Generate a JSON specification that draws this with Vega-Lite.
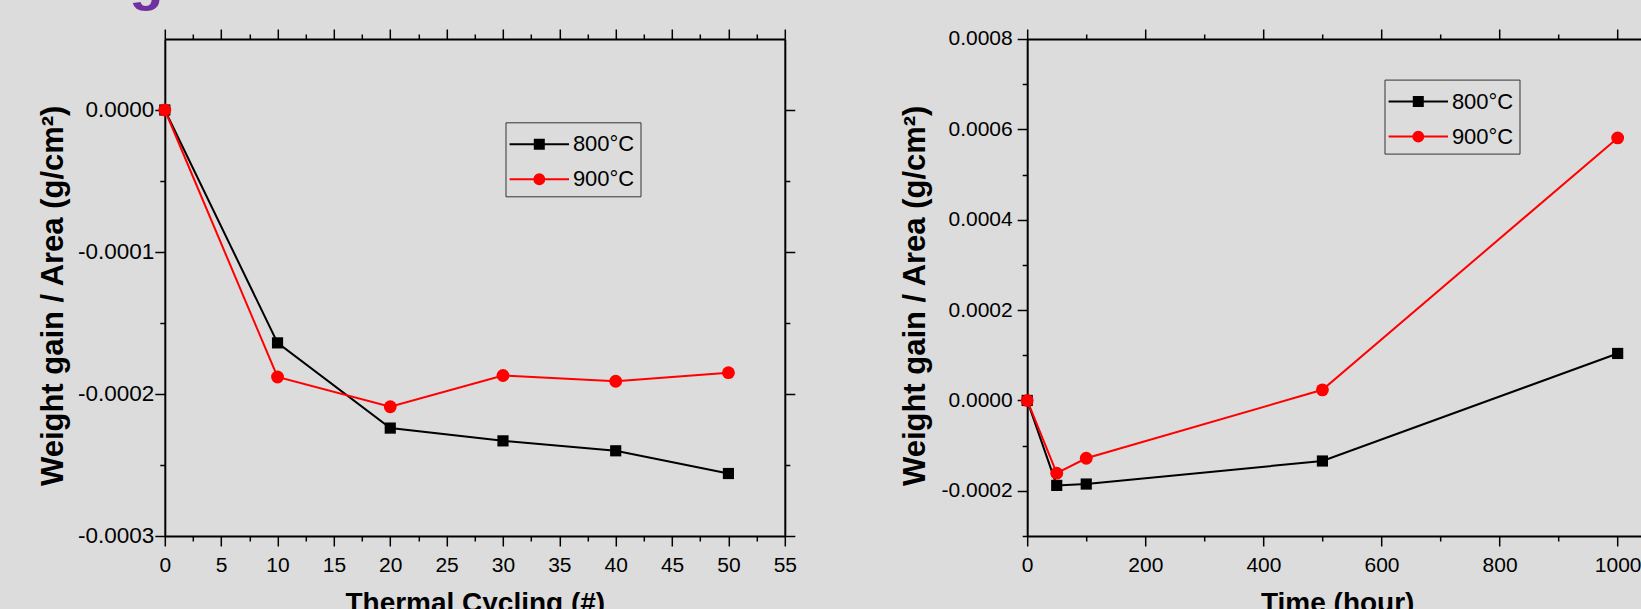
{
  "$schema": "https://vega.github.io/schema/vega-lite/v6.json",
  "background": "#DCDCDC",
  "autosize": {"type": "pad"},
  "padding": {"left": 36.8, "top": -47, "right": -15.7, "bottom": -8.7},
  "title": {"text": "g", "anchor": "start", "frame": "bounds", "offset": -26.9, "dx": 92, "fontSize": 56, "fontWeight": "bold", "font": "Liberation Sans", "color": "#7030A0", "baseline": "alphabetic"},
  "datasets": {
    "tc": [
      {"cycle": 0, "gain": 0, "series": "800°C"},
      {"cycle": 10, "gain": -0.000164, "series": "800°C"},
      {"cycle": 20, "gain": -0.000224, "series": "800°C"},
      {"cycle": 30, "gain": -0.000233, "series": "800°C"},
      {"cycle": 40, "gain": -0.00024, "series": "800°C"},
      {"cycle": 50, "gain": -0.000256, "series": "800°C"},
      {"cycle": 0, "gain": 0, "series": "900°C"},
      {"cycle": 10, "gain": -0.000188, "series": "900°C"},
      {"cycle": 20, "gain": -0.000209, "series": "900°C"},
      {"cycle": 30, "gain": -0.000187, "series": "900°C"},
      {"cycle": 40, "gain": -0.000191, "series": "900°C"},
      {"cycle": 50, "gain": -0.000185, "series": "900°C"}
    ],
    "time": [
      {"hour": 0, "gain": 0, "series": "800°C"},
      {"hour": 50, "gain": -0.000188, "series": "800°C"},
      {"hour": 100, "gain": -0.000185, "series": "800°C"},
      {"hour": 500, "gain": -0.000134, "series": "800°C"},
      {"hour": 1000, "gain": 0.000104, "series": "800°C"},
      {"hour": 0, "gain": 0, "series": "900°C"},
      {"hour": 50, "gain": -0.000161, "series": "900°C"},
      {"hour": 100, "gain": -0.000128, "series": "900°C"},
      {"hour": 500, "gain": 0.0000235, "series": "900°C"},
      {"hour": 1000, "gain": 0.000581, "series": "900°C"}
    ]
  },
  "hconcat": [
    {
      "width": 620,
      "height": 497,
      "data": {"name": "tc"},
      "layer": [
        {
          "transform": [{"filter": "datum.series === '800°C'"}],
          "mark": {"type": "line", "strokeWidth": 2, "color": "#000000"},
          "encoding": {
            "x": {"field": "cycle", "type": "quantitative", "scale": {"domain": [0, 55], "nice": false, "zero": false},
              "axis": {"orient": "bottom", "values": [0, 5, 10, 15, 20, 25, 30, 35, 40, 45, 50, 55], "format": "d", "labelPadding": 9, "title": "Thermal Cycling (#)", "titleFontSize": 28, "titleY": 53.7, "titleBaseline": "top"}},
            "y": {"field": "gain", "type": "quantitative", "scale": {"domain": [-0.0003, 0.00005], "nice": false, "zero": false},
              "axis": {"orient": "left", "values": [-0.0003, -0.0002, -0.0001, 0], "labelExpr": "(datum.value < 0 ? '-' : '') + format(abs(datum.value), '.4f')", "labelFontSize": 22.5, "labelPadding": 1, "title": "Weight gain / Area (g/cm²)", "titleFontSize": 31, "titleX": -111.5, "titleY": 256.3, "titleBaseline": "middle", "titleAngle": 270}}
          }
        },
        {
          "transform": [{"filter": "datum.series === '900°C'"}],
          "mark": {"type": "line", "strokeWidth": 2, "color": "#FF0000"},
          "encoding": {
            "x": {"field": "cycle", "type": "quantitative", "axis": null},
            "y": {"field": "gain", "type": "quantitative", "axis": null}
          }
        },
        {
          "transform": [{"filter": "datum.series === '800°C'"}],
          "mark": {"type": "point", "shape": "square", "filled": true, "size": 125, "color": "#000000", "opacity": 1},
          "encoding": {
            "x": {"field": "cycle", "type": "quantitative", "axis": {"orient": "top", "values": [0, 5, 10, 15, 20, 25, 30, 35, 40, 45, 50, 55], "labels": false, "title": null}},
            "y": {"field": "gain", "type": "quantitative", "axis": {"orient": "right", "values": [-0.0003, -0.0002, -0.0001, 0], "labels": false, "title": null}}
          }
        },
        {
          "transform": [{"filter": "datum.series === '900°C'"}],
          "mark": {"type": "point", "shape": "circle", "filled": true, "size": 165, "color": "#FF0000", "opacity": 1},
          "encoding": {
            "x": {"field": "cycle", "type": "quantitative", "axis": {"orient": "bottom", "values": [2.5, 7.5, 12.5, 17.5, 22.5, 27.5, 32.5, 37.5, 42.5, 47.5, 52.5], "labels": false, "domain": false, "tickSize": 5, "title": null}},
            "y": {"field": "gain", "type": "quantitative", "axis": {"orient": "left", "values": [-0.00025, -0.00015, -0.00005], "labels": false, "domain": false, "tickSize": 5, "title": null}}
          }
        },
        {
          "mark": {"type": "point", "filled": true, "opacity": 0.001},
          "encoding": {
            "x": {"field": "cycle", "type": "quantitative", "axis": {"orient": "top", "values": [2.5, 7.5, 12.5, 17.5, 22.5, 27.5, 32.5, 37.5, 42.5, 47.5, 52.5], "labels": false, "domain": false, "tickSize": 5, "title": null}},
            "y": {"field": "gain", "type": "quantitative", "axis": {"orient": "right", "values": [-0.00025, -0.00015, -0.00005], "labels": false, "domain": false, "tickSize": 5, "title": null}},
            "fill": {"field": "series", "type": "nominal", "scale": {"domain": ["800°C", "900°C"], "range": ["#000000", "#FF0000"]},
              "legend": {"orient": "none", "legendX": 340.7, "legendY": 83.3, "title": null, "symbolSize": 900, "symbolStrokeWidth": 2, "symbolOpacity": 1, "symbolOffset": 11.8, "labelOffset": 17.6, "labelFontSize": 22, "labelFont": "Liberation Sans", "labelColor": "#000000", "strokeColor": "#333333", "fillColor": "#DCDCDC", "padding": 6, "rowPadding": 8}},
            "stroke": {"field": "series", "type": "nominal", "scale": {"domain": ["800°C", "900°C"], "range": ["#000000", "#FF0000"]},
              "legend": {"orient": "none", "legendX": 340.7, "legendY": 83.3, "title": null, "symbolSize": 900, "symbolStrokeWidth": 2, "symbolOpacity": 1, "symbolOffset": 11.8, "labelOffset": 17.6, "labelFontSize": 22, "labelFont": "Liberation Sans", "labelColor": "#000000", "strokeColor": "#333333", "fillColor": "#DCDCDC", "padding": 6, "rowPadding": 8}},
            "shape": {"field": "series", "type": "nominal", "scale": {"domain": ["800°C", "900°C"], "range": ["M-1.98,0H1.98M-0.3,-0.3H0.3V0.3H-0.3Z", "M-1.98,0H1.98M0.33,0A0.33,0.33,0,1,1,-0.33,0A0.33,0.33,0,1,1,0.33,0Z"]},
              "legend": {"orient": "none", "legendX": 340.7, "legendY": 83.3, "title": null, "symbolSize": 900, "symbolStrokeWidth": 2, "symbolOpacity": 1, "symbolOffset": 11.8, "labelOffset": 17.6, "labelFontSize": 22, "labelFont": "Liberation Sans", "labelColor": "#000000", "strokeColor": "#333333", "fillColor": "#DCDCDC", "padding": 6, "rowPadding": 8}}
          }
        }
      ],
      "resolve": {"axis": {"x": "independent", "y": "independent"}}
    },
    {
      "width": 620,
      "height": 497,
      "data": {"name": "time"},
      "layer": [
        {
          "transform": [{"filter": "datum.series === '800°C'"}],
          "mark": {"type": "line", "strokeWidth": 2, "color": "#000000"},
          "encoding": {
            "x": {"field": "hour", "type": "quantitative", "scale": {"domain": [0, 1050], "nice": false, "zero": false},
              "axis": {"orient": "bottom", "values": [0, 200, 400, 600, 800, 1000], "format": "d", "labelPadding": 9, "title": "Time (hour)", "titleFontSize": 28, "titleY": 53.7, "titleBaseline": "top"}},
            "y": {"field": "gain", "type": "quantitative", "scale": {"domain": [-0.0003, 0.0008], "nice": false, "zero": false},
              "axis": {"orient": "left", "values": [-0.0002, 0, 0.0002, 0.0004, 0.0006, 0.0008], "labelExpr": "(datum.value < 0 ? '-' : '') + format(abs(datum.value), '.4f')", "labelPadding": 5, "title": "Weight gain / Area (g/cm²)", "titleFontSize": 31, "titleX": -111.5, "titleY": 256.3, "titleBaseline": "middle", "titleAngle": 270}}
          }
        },
        {
          "transform": [{"filter": "datum.series === '900°C'"}],
          "mark": {"type": "line", "strokeWidth": 2, "color": "#FF0000"},
          "encoding": {
            "x": {"field": "hour", "type": "quantitative", "axis": null},
            "y": {"field": "gain", "type": "quantitative", "axis": null}
          }
        },
        {
          "transform": [{"filter": "datum.series === '800°C'"}],
          "mark": {"type": "point", "shape": "square", "filled": true, "size": 125, "color": "#000000", "opacity": 1},
          "encoding": {
            "x": {"field": "hour", "type": "quantitative", "axis": {"orient": "top", "values": [0, 200, 400, 600, 800, 1000], "labels": false, "title": null}},
            "y": {"field": "gain", "type": "quantitative", "axis": {"orient": "right", "values": [-0.0002, 0, 0.0002, 0.0004, 0.0006, 0.0008], "labels": false, "title": null}}
          }
        },
        {
          "transform": [{"filter": "datum.series === '900°C'"}],
          "mark": {"type": "point", "shape": "circle", "filled": true, "size": 165, "color": "#FF0000", "opacity": 1},
          "encoding": {
            "x": {"field": "hour", "type": "quantitative", "axis": {"orient": "bottom", "values": [100, 300, 500, 700, 900], "labels": false, "domain": false, "tickSize": 5, "title": null}},
            "y": {"field": "gain", "type": "quantitative", "axis": {"orient": "left", "values": [-0.0003, -0.0001, 0.0001, 0.0003, 0.0005, 0.0007], "labels": false, "domain": false, "tickSize": 5, "title": null}}
          }
        },
        {
          "mark": {"type": "point", "filled": true, "opacity": 0.001},
          "encoding": {
            "x": {"field": "hour", "type": "quantitative", "axis": {"orient": "top", "values": [100, 300, 500, 700, 900], "labels": false, "domain": false, "tickSize": 5, "title": null}},
            "y": {"field": "gain", "type": "quantitative", "axis": {"orient": "right", "values": [-0.0003, -0.0001, 0.0001, 0.0003, 0.0005, 0.0007], "labels": false, "domain": false, "tickSize": 5, "title": null}},
            "fill": {"field": "series", "type": "nominal", "scale": {"domain": ["800°C", "900°C"], "range": ["#000000", "#FF0000"]},
              "legend": {"orient": "none", "legendX": 357.3, "legendY": 40.6, "title": null, "symbolSize": 900, "symbolStrokeWidth": 2, "symbolOpacity": 1, "symbolOffset": 11.8, "labelOffset": 17.6, "labelFontSize": 22, "labelFont": "Liberation Sans", "labelColor": "#000000", "strokeColor": "#333333", "fillColor": "#DCDCDC", "padding": 6, "rowPadding": 8}},
            "stroke": {"field": "series", "type": "nominal", "scale": {"domain": ["800°C", "900°C"], "range": ["#000000", "#FF0000"]},
              "legend": {"orient": "none", "legendX": 357.3, "legendY": 40.6, "title": null, "symbolSize": 900, "symbolStrokeWidth": 2, "symbolOpacity": 1, "symbolOffset": 11.8, "labelOffset": 17.6, "labelFontSize": 22, "labelFont": "Liberation Sans", "labelColor": "#000000", "strokeColor": "#333333", "fillColor": "#DCDCDC", "padding": 6, "rowPadding": 8}},
            "shape": {"field": "series", "type": "nominal", "scale": {"domain": ["800°C", "900°C"], "range": ["M-1.98,0H1.98M-0.3,-0.3H0.3V0.3H-0.3Z", "M-1.98,0H1.98M0.33,0A0.33,0.33,0,1,1,-0.33,0A0.33,0.33,0,1,1,0.33,0Z"]},
              "legend": {"orient": "none", "legendX": 357.3, "legendY": 40.6, "title": null, "symbolSize": 900, "symbolStrokeWidth": 2, "symbolOpacity": 1, "symbolOffset": 11.8, "labelOffset": 17.6, "labelFontSize": 22, "labelFont": "Liberation Sans", "labelColor": "#000000", "strokeColor": "#333333", "fillColor": "#DCDCDC", "padding": 6, "rowPadding": 8}}
          }
        }
      ],
      "resolve": {"axis": {"x": "independent", "y": "independent"}}
    }
  ],
  "spacing": 242.4,
  "bounds": "flush",
  "resolve": {"scale": {"fill": "independent", "stroke": "independent", "shape": "independent"}},
  "config": {
    "font": "Liberation Sans",
    "view": {"stroke": null},
    "axis": {"grid": false, "domainColor": "#000000", "domainWidth": 2, "tickColor": "#000000", "tickWidth": 1.5, "tickSize": 10, "labelColor": "#000000", "labelFont": "Liberation Sans", "labelFontSize": 21, "labelOverlap": false, "labelFlush": false, "labelBound": false, "titleColor": "#000000", "titleFont": "Liberation Sans", "titleFontWeight": "bold"}
  }
}
